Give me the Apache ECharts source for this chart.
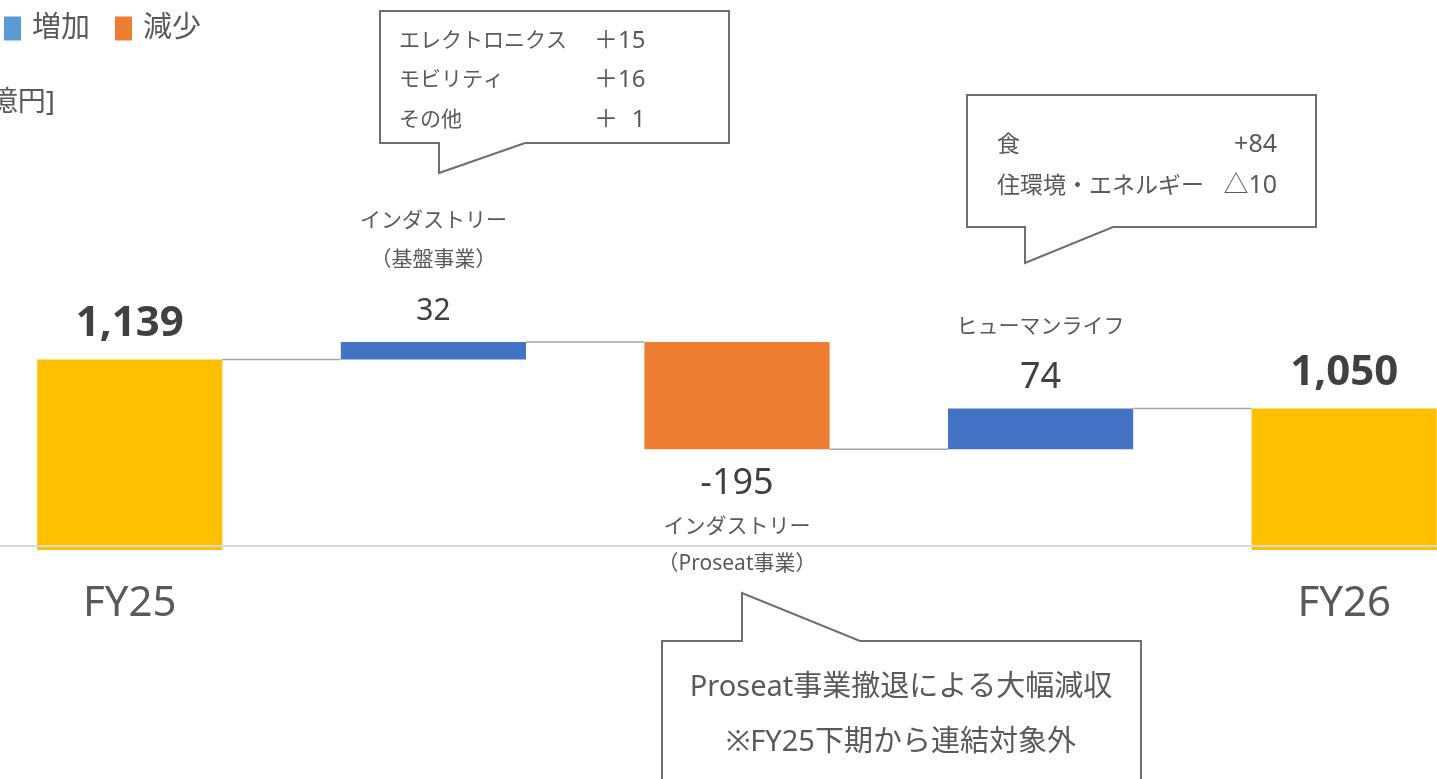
<!DOCTYPE html>
<html><head><meta charset="utf-8">
<script src="https://cdn.jsdelivr.net/npm/echarts@6/dist/echarts.min.js"></script>
<style>html,body{margin:0;padding:0;background:#fff;overflow:hidden;}#c{width:1437px;height:779px;}</style>
</head><body><div id="c"></div>
<script>
// ---- data ----
const categories = ['FY25', 'インダストリー\n（基盤事業）', 'インダストリー\n（Proseat事業）', 'ヒューマンライフ', 'FY26'];
const changes = [1139, 32, -195, 74, 1050];
const kinds = ['total', 'up', 'down', 'up', 'total'];
const valueLabels = ['1,139', '32', '-195', '74', '1,050'];
const legendNames = ['増加', '減少'];
const unitLabel = '[億円]';
const note1Names = ['エレクトロニクス', 'モビリティ', 'その他'];
const note1Values = ['＋15', '＋16', '＋\u20071'];
const note2Names = ['食', '住環境・エネルギー'];
const note2Values = ['+84', '△10'];
const note3Lines = ['Proseat事業撤退による大幅減収', '※FY25下期から連結対象外'];

// ---- styles ----
const FONT = "'Noto Sans', 'Noto Sans CJK JP', sans-serif";
const C_TOTAL = '#FFC000', C_UP = '#4472C4', C_DOWN = '#ED7D31', C_LEG_UP = '#5B9BD5';
const TXT = '#595959', TXT_D = '#404040';
const BAR_W = 0.61;
const valueFont = {1: 30, 2: 36, 3: 36};

// ---- waterfall build ----
const base = [], totalS = [], upS = [], downS = [], connectors = [];
let running = 0;
changes.forEach((v, i) => {
  const k = kinds[i];
  if (k === 'total') {
    running = v;
    base.push(0);
    totalS.push({value: v, label: {show: true, position: 'top', distance: 13, formatter: valueLabels[i],
      fontFamily: FONT, fontSize: 42, fontWeight: 'bold', color: TXT_D, lineHeight: 46}});
    upS.push('-'); downS.push('-');
  } else {
    const nameLines = categories[i].split('\n').map(s => '{n|' + s + '}').join('\n');
    const fs = valueFont[i] || 34;
    if (k === 'up') {
      base.push(running);
      upS.push({value: v, label: {show: true, position: 'top', distance: 0,
        formatter: nameLines + '\n{v|' + valueLabels[i] + '}',
        rich: {n: {fontFamily: FONT, fontSize: 21, lineHeight: 39, color: TXT},
               v: {fontFamily: FONT, fontSize: fs, lineHeight: 62, color: TXT_D}}}});
      downS.push('-');
      running += v;
    } else {
      running += v;
      base.push(running);
      downS.push({value: -v, label: {show: true, position: 'bottom', distance: 10,
        formatter: '{v|' + valueLabels[i] + '}\n' + nameLines,
        rich: {n: {fontFamily: FONT, fontSize: 21, lineHeight: 37, color: TXT},
               v: {fontFamily: FONT, fontSize: fs, lineHeight: 49, color: TXT_D}}}});
      upS.push('-');
    }
    totalS.push('-');
  }
  if (i < changes.length - 1) connectors.push([i, running]);
});

const chart = echarts.init(document.getElementById('c'), null, {renderer: 'canvas'});

const graphics = [];
function callout(points) {
  graphics.push({type: 'polygon', shape: {points: points}, style: {fill: '#fff', stroke: '#6E6E6E', lineWidth: 2}, z: 10});
}
function txt(x, y, s, size, align) {
  graphics.push({type: 'text', x: x, y: y, z: 11,
    style: {text: s, fontFamily: FONT, fontSize: size, fill: TXT, textAlign: align || 'left', textVerticalAlign: 'middle'}});
}
// unit label
txt(55, 103, unitLabel, 28, 'right');
// callout 1
callout([[380, 11], [729, 11], [729, 143], [525, 143], [439, 173], [439, 143], [380, 143]]);
note1Names.forEach((s, j) => { txt(399, 41 + j * 39.5, s, 21); txt(594, 41 + j * 39.5, note1Values[j], 24); });
// callout 2
callout([[967, 95], [1316, 95], [1316, 227], [1113, 227], [1025, 263], [1025, 227], [967, 227]]);
note2Names.forEach((s, j) => { txt(997, 145 + j * 41, s, 23); txt(1277, 145 + j * 41, note2Values[j], 25, 'right'); });
// callout 3
callout([[662, 641], [742, 641], [742, 593], [860, 641], [1141, 641], [1141, 800], [662, 800]]);
note3Lines.forEach((s, j) => txt(901, 688 + j * 55, s, 29, 'center'));

chart.setOption({
  animation: false,
  textStyle: {fontFamily: FONT},
  legend: {
    left: -1, top: 9, itemWidth: 17, itemHeight: 24, itemGap: 25, icon: 'rect',
    data: [{name: legendNames[0], itemStyle: {color: C_LEG_UP}}, {name: legendNames[1]}],
    textStyle: {fontFamily: FONT, fontSize: 29, color: TXT, padding: [0, 0, 0, 6]},
    selectedMode: false
  },
  grid: {left: -22, right: -59, top: 271, bottom: 229, containLabel: false, outerBoundsMode: 'none'},
  xAxis: {
    type: 'category', data: categories, boundaryGap: true,
    axisLine: {show: false}, axisTick: {show: false},
    axisLabel: {
      interval: 0, margin: 33, fontFamily: FONT, fontSize: 42, lineHeight: 42, color: TXT,
      formatter: (v, i) => kinds[i] === 'total' ? v : ''
    }
  },
  yAxis: {type: 'value', min: 793, max: 1300, show: false, splitLine: {show: false}},
  series: [
    {name: 'base', type: 'bar', stack: 'wf', data: base, barWidth: (BAR_W * 100) + '%',
      itemStyle: {color: 'transparent'}, silent: true},
    {name: '合計', type: 'bar', stack: 'wf', data: totalS, itemStyle: {color: C_TOTAL},
      markLine: {silent: true, symbol: 'none', label: {show: false},
        lineStyle: {color: '#D9D9D9', width: 2, type: 'solid'}, data: [{yAxis: 800}], z: 5}},
    {name: legendNames[0], type: 'bar', stack: 'wf', data: upS, itemStyle: {color: C_UP}},
    {name: legendNames[1], type: 'bar', stack: 'wf', data: downS, itemStyle: {color: C_DOWN}},
    {name: 'connector', type: 'custom', data: connectors, encode: {x: 0, y: 1}, silent: true, z: 3,
      renderItem: (params, api) => {
        const i = api.value(0), lv = api.value(1);
        const p1 = api.coord([i, lv]), p2 = api.coord([i + 1, lv]);
        const hw = api.size([1, 0])[0] * BAR_W / 2;
        return {type: 'line', shape: {x1: p1[0] + hw, y1: p1[1], x2: p2[0] - hw, y2: p2[1]},
          style: {stroke: '#A6A6A6', lineWidth: 1.5}};
      }}
  ],
  graphic: graphics
});
</script>
</body></html>
